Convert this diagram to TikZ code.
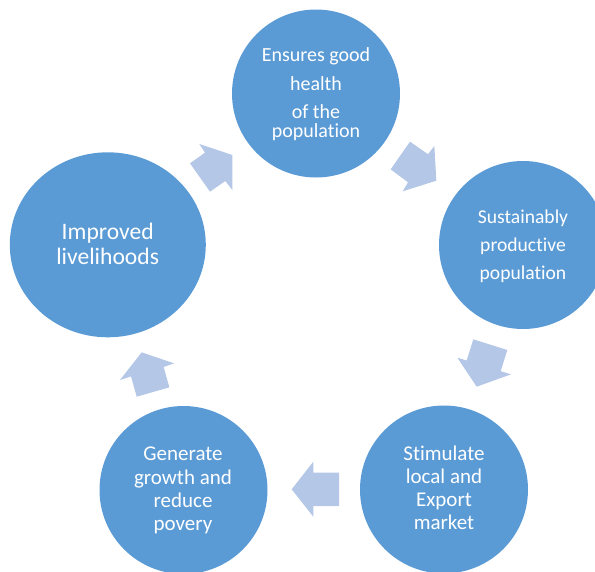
\documentclass[tikz,border=0pt]{standalone}
\usepackage{fontspec}
\setmainfont{Carlito}[Ligatures=NoCommon]
\usetikzlibrary{shapes.geometric}
\definecolor{circblue}{RGB}{91,155,213}
\definecolor{arrblue}{RGB}{180,199,231}
\begin{document}
\begin{tikzpicture}[x=1pt,y=-1pt,
  circ/.style={circle,fill=circblue,draw=none,inner sep=0pt,minimum size=168pt},
  lbl/.style={text=white,anchor=base,inner sep=0pt},
  fa/.style={lbl,font=\fontsize{20}{24}\selectfont},
  fb/.style={lbl,font=\fontsize{19.6}{24}\selectfont},
  fc/.style={lbl,font=\fontsize{21}{24}\selectfont},
  fd/.style={lbl,font=\fontsize{23.6}{27}\selectfont},
  arr/.style={fill=arrblue,draw=none}]
\useasboundingbox (0,0) rectangle (595,571);
\clip (0,0) rectangle (595,571);
% circles
\node[circ] (top) at (316,93.5) {};
\node[circ] (right) at (523,245) {};
\node[circ] (botr) at (444,489.5) {};
\node[circ] (botl) at (183.5,490) {};
\node[ellipse,fill=circblue,draw=none,inner sep=0pt,minimum width=196pt,minimum height=185pt] (left) at (107.8,244.8) {};
% labels
\node[fa] (t1) at (316,61.7) {Ensures good};
\node[fa] (t2) at (316,90.7) {health};
\node[fa] (t3) at (316,118.3) {of the};
\node[fa] (t4) at (316,137.2) {population};
\node[fb] (r1) at (523,223.3) {Sustainably};
\node[fb] (r2) at (523,251.7) {productive};
\node[fb] (r3) at (523,279.3) {population};
\node[fc] (br1) at (444,460) {Stimulate};
\node[fc] (br2) at (444,483.3) {local and};
\node[fc] (br3) at (444,506.7) {Export};
\node[fc] (br4) at (444,529.3) {market};
\node[fc] (bl1) at (183,460.7) {Generate};
\node[fc] (bl2) at (183,484.3) {growth and};
\node[fc] (bl3) at (183,507.3) {reduce};
\node[fc] (bl4) at (183,530) {povery};
\node[fd] (l1) at (107.7,239.3) {Improved};
\node[fd] (l2) at (107.7,264) {livelihoods};
% block arrows
\fill[arr] (199.33,144) -- (232.33,155) -- (232.33,190) -- (225.33,181) -- (210,191.67) -- (190,163.33) -- (205,152.67) -- cycle;
\fill[arr] (410,141.67) -- (428,154.2) -- (434.33,146) -- (436.33,180.67) -- (402.67,191.33) -- (408,182.3) -- (390.67,169.33) -- cycle;
\fill[arr] (473.33,339.33) -- (507.33,350) -- (500.67,371.17) -- (511,374.33) -- (476.67,386.67) -- (457.33,357.67) -- (466.67,360.5) -- cycle;
\fill[arr] (291.7,489.3) -- (313.3,461.7) -- (313.3,472.7) -- (339,472.7) -- (339,506) -- (313.3,506) -- (313.3,516.7) -- cycle;
\fill[arr] (141.67,352.33) -- (174,363.33) -- (163.67,367) -- (169.33,387.33) -- (136.67,396.67) -- (131,376.33) -- (120,380) -- cycle;
\end{tikzpicture}
\end{document}
